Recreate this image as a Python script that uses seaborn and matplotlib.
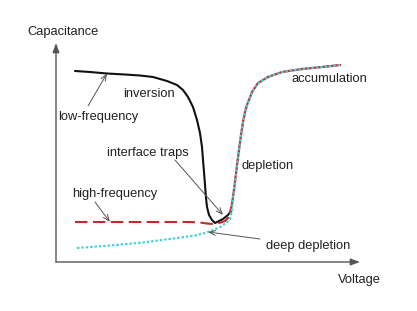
import numpy as np
import pandas as pd
import matplotlib
matplotlib.use("Agg")
import matplotlib.pyplot as plt
import seaborn as sns

# ---- data (arbitrary units: voltage, capacitance) ----
lf_voltage = [19, 34, 51, 69, 84, 97, 111, 121, 127, 132, 137, 141, 144, 146, 147, 148,
              149, 150, 151, 153, 156, 159, 163, 167, 172, 175]
lf_capacitance = [191, 190, 188.5, 187.5, 186.5, 185, 181, 177, 172, 165, 155, 142, 129, 115,
                  102, 90, 77, 64, 55, 47, 42, 39, 41, 43, 47, 51]

hf_voltage = [19, 54, 94, 134, 144, 151, 157, 163, 169, 172, 174]
hf_capacitance = [40, 40, 40, 40, 39.5, 38.5, 38, 39, 41, 44, 49]

dd_voltage = [21, 54, 87, 121, 139, 149, 156, 164, 170, 174, 176]
dd_capacitance = [14, 16.5, 19.5, 24, 26.5, 29, 31.5, 35, 39, 43, 49]

shared_voltage = [174, 176, 177, 179, 181, 183, 185, 187, 189, 191, 196, 202, 212, 226,
                  246, 266, 284]
shared_capacitance = [49, 58, 65, 80, 97, 112, 127, 140, 150, 157, 170, 179, 185, 190,
                      193, 195, 197]

labels = ["Capacitance", "Voltage", "inversion", "low-frequency", "interface traps",
          "depletion", "accumulation", "high-frequency", "deep depletion"]

sns.set_theme(style="white")
plt.rcParams['font.family'] = ['Liberation Sans', 'DejaVu Sans']

fig = plt.figure(figsize=(4.17, 3.11), dpi=100)
ax = fig.add_axes([56/417, 1-262/311, 304/417, 219/311])
ax.set_xlim(0, 304)
ax.set_ylim(0, 219)
for s in ax.spines.values():
    s.set_visible(False)
ax.set_xticks([])
ax.set_yticks([])
ax.set_xlabel("")
ax.set_ylabel("")

BLACK = "#111111"
RED = "#c8282a"
CYAN = "#3fd3d6"

lf = pd.DataFrame({"V": lf_voltage, "C": lf_capacitance})
hf = pd.DataFrame({"V": hf_voltage, "C": hf_capacitance})
sh = pd.DataFrame({"V": shared_voltage, "C": shared_capacitance})
dd = pd.DataFrame({"V": dd_voltage + shared_voltage[1:],
                   "C": dd_capacitance + shared_capacitance[1:]})

sns.lineplot(data=lf, x="V", y="C", sort=False, color=BLACK, lw=1.5, ax=ax)
sns.lineplot(data=hf, x="V", y="C", sort=False, color=RED, lw=1.5,
             linestyle=(0, (6, 2.6)), ax=ax)
sns.lineplot(data=sh, x="V", y="C", sort=False, color=RED, lw=1.6, ax=ax)
sns.lineplot(data=dd, x="V", y="C", sort=False, color=CYAN, lw=1.5,
             linestyle=(0, (1.2, 0.9)), ax=ax)

# axes arrows
axis_kw = dict(arrowstyle="-|>,head_length=0.55,head_width=0.2", color="#555555",
               lw=1.0, mutation_scale=10, shrinkA=0, shrinkB=0)
ax.annotate("", xy=(0, 219), xytext=(0, 0), arrowprops=axis_kw, annotation_clip=False)
ax.annotate("", xy=(304, 0), xytext=(0, 0), arrowprops=axis_kw, annotation_clip=False)

TXT = "#222222"
fs = 9.3
ax.text(-29, 230, labels[0], fontsize=fs, color=TXT, ha="left", va="center", clip_on=False)
ax.text(282, -18, labels[1], fontsize=fs, color=TXT, ha="left", va="center", clip_on=False)
ax.text(67, 168, labels[2], fontsize=fs, color=TXT, ha="left", va="center")
ax.text(2, 145, labels[3], fontsize=fs, color=TXT, ha="left", va="center")
ax.text(51, 109, labels[4], fontsize=fs, color=TXT, ha="left", va="center")
ax.text(186, 96, labels[5], fontsize=fs, color=TXT, ha="left", va="center")
ax.text(236, 183, labels[6], fontsize=fs, color=TXT, ha="left", va="center")
ax.text(16, 68, labels[7], fontsize=fs, color=TXT, ha="left", va="center")
ax.text(210, 16, labels[8], fontsize=fs, color=TXT, ha="left", va="center")

arr_kw = dict(arrowstyle="->,head_length=0.45,head_width=0.18", color="#555555",
              lw=0.7, mutation_scale=10, shrinkA=0, shrinkB=0)
ax.annotate("", xy=(lf_voltage[2], lf_capacitance[2]), xytext=(32, 156), arrowprops=arr_kw)
ax.annotate("", xy=(hf_voltage[1], hf_capacitance[1]), xytext=(39, 60), arrowprops=arr_kw)
ax.annotate("", xy=(167, 47), xytext=(119, 102), arrowprops=arr_kw)
ax.annotate("", xy=(152, 30), xytext=(204, 23), arrowprops=arr_kw)

fig.savefig("out.png", dpi=100)
